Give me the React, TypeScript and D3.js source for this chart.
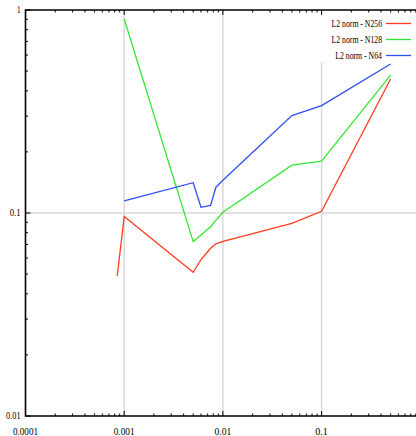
import { useEffect, useRef } from 'react';
import * as d3 from 'd3';

const seriesNames = ['L2 norm - N256', 'L2 norm - N128', 'L2 norm - N64'];
const seriesColors = ['#ff3c1e', '#33e633', '#2e4ff0'];

const n256X = [0.00085, 0.001, 0.005, 0.006, 0.0075, 0.0085, 0.01, 0.05, 0.1, 0.5];
const n256Y = [0.049, 0.096, 0.051, 0.059, 0.067, 0.0705, 0.0725, 0.089, 0.102, 0.457];

const n128X = [0.001, 0.005, 0.006, 0.0075, 0.0085, 0.01, 0.05, 0.1, 0.5];
const n128Y = [0.903, 0.0722, 0.078, 0.0856, 0.092, 0.1008, 0.172, 0.18, 0.478];

const n64X = [0.001, 0.005, 0.006, 0.0075, 0.0085, 0.01, 0.05, 0.1, 0.5];
const n64Y = [0.1146, 0.141, 0.1067, 0.109, 0.134, 0.145, 0.302, 0.338, 0.542];

const xTickLabels = ['0.0001', '0.001', '0.01', '0.1'];
const yTickLabels = ['0.01', '0.1', '1'];

export default function App() {
  const svgRef = useRef<SVGSVGElement>(null);

  useEffect(() => {
    if (!svgRef.current) return;
    const svg = d3.select(svgRef.current);
    svg.selectAll('*').remove();

    const width = 416;
    const height = 436;
    const left = 25.5;
    const top = 10;
    const bottom = 416;
    const decadeX = 98.7;

    const x = d3.scaleLog().domain([1e-4, 1]).range([left, left + 4 * decadeX]);
    const y = d3.scaleLog().domain([0.01, 1]).range([bottom, top]);

    svg.attr('width', width).attr('height', height);

    const font = '"Liberation Serif", "DejaVu Serif", serif';

    // Grid
    const grid = svg.append('g').attr('stroke', '#d9d9d9').attr('stroke-width', 1.5);
    [0.001, 0.01, 0.1].forEach(v => {
      grid.append('line')
        .attr('x1', x(v)).attr('x2', x(v))
        .attr('y1', v === 0.1 ? 62 : top).attr('y2', bottom);
    });
    grid.append('line')
      .attr('x1', left).attr('x2', width)
      .attr('y1', y(0.1)).attr('y2', y(0.1));

    // Ticks
    const ticks = svg.append('g').attr('stroke', '#000').attr('stroke-width', 1);
    const isMajor = (v: number) => Math.abs(Math.log10(v) - Math.round(Math.log10(v))) < 1e-6;

    x.ticks().forEach(v => {
      const len = isMajor(v) ? 5 : 2.5;
      ticks.append('line').attr('x1', x(v)).attr('x2', x(v)).attr('y1', bottom).attr('y2', bottom - len);
      ticks.append('line').attr('x1', x(v)).attr('x2', x(v)).attr('y1', top).attr('y2', top + len);
    });
    y.ticks().forEach(v => {
      const len = isMajor(v) ? 5 : 2.5;
      ticks.append('line').attr('x1', left).attr('x2', left + len).attr('y1', y(v)).attr('y2', y(v));
    });

    // Axis lines
    svg.append('path')
      .attr('d', `M${width},${top}H${left}V${bottom}H${width}`)
      .attr('fill', 'none')
      .attr('stroke', '#000')
      .attr('stroke-width', 1.6);

    // Tick labels
    xTickLabels.forEach(t => {
      svg.append('text')
        .attr('x', Math.max(x(+t), 22))
        .attr('y', 434.5)
        .attr('text-anchor', 'middle')
        .attr('font-family', font)
        .attr('font-size', 9.5)
        .attr('textLength', t.length * 4.2)
        .attr('lengthAdjust', 'spacingAndGlyphs')
        .text(t);
    });
    yTickLabels.forEach(t => {
      svg.append('text')
        .attr('x', 20.5)
        .attr('y', y(+t) + 3)
        .attr('text-anchor', 'end')
        .attr('font-family', font)
        .attr('font-size', 9.5)
        .attr('textLength', t.length * 3.6)
        .attr('lengthAdjust', 'spacingAndGlyphs')
        .text(t);
    });

    // Lines
    const clipId = 'plot-clip';
    svg.append('defs').append('clipPath').attr('id', clipId)
      .append('rect').attr('x', left).attr('y', top).attr('width', width - left).attr('height', bottom - top);

    const line = d3.line<[number, number]>()
      .x(d => x(d[0]))
      .y(d => y(d[1]));

    const series: [number, number][][] = [
      n256X.map((v, i) => [v, n256Y[i]]),
      n128X.map((v, i) => [v, n128Y[i]]),
      n64X.map((v, i) => [v, n64Y[i]]),
    ];

    series.forEach((data, i) => {
      svg.append('path')
        .datum(data)
        .attr('clip-path', `url(#${clipId})`)
        .attr('fill', 'none')
        .attr('stroke', seriesColors[i])
        .attr('stroke-width', 1.3)
        .attr('d', line);
    });

    // Legend
    seriesNames.forEach((name, i) => {
      const ly = 23.5 + i * 16;
      svg.append('text')
        .attr('x', 382)
        .attr('y', ly + 3)
        .attr('text-anchor', 'end')
        .attr('font-family', font)
        .attr('font-size', 9.5)
        .attr('textLength', name.length * 3.6)
        .attr('lengthAdjust', 'spacingAndGlyphs')
        .text(name);
      svg.append('line')
        .attr('x1', 386).attr('x2', 411)
        .attr('y1', ly).attr('y2', ly)
        .attr('stroke', seriesColors[i])
        .attr('stroke-width', 1.3);
    });
  }, []);

  return (
    <div style={{ position: 'absolute', left: 0, top: 0 }}>
      <svg ref={svgRef} style={{ display: 'block', background: '#fff' }}></svg>
    </div>
  );
}
